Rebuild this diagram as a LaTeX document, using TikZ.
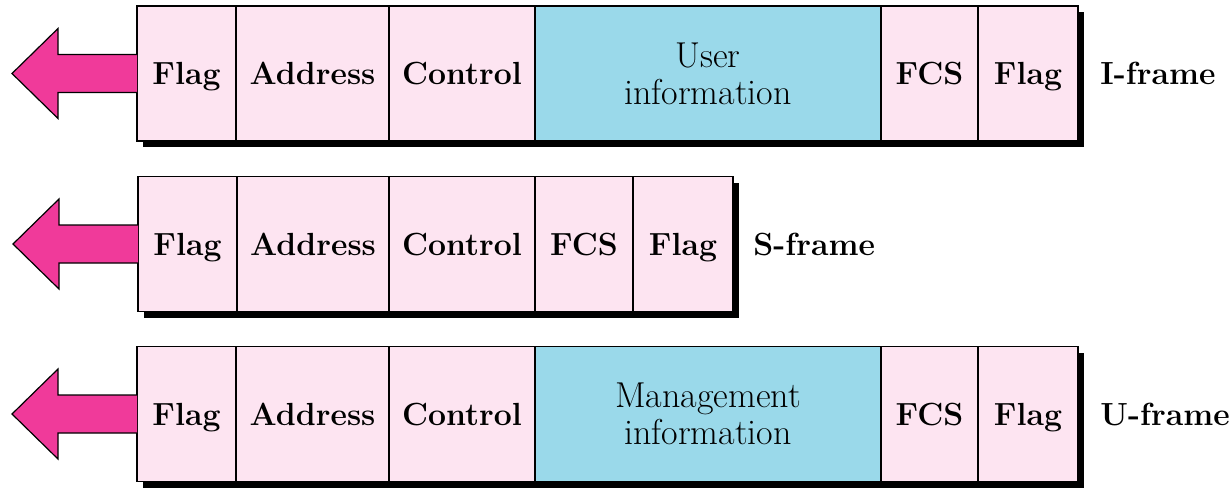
\documentclass[tikz,border=0pt]{standalone}
\usepackage{tikz}
\usetikzlibrary{positioning}
\usetikzlibrary{shadows}
\definecolor{cellpink}{HTML}{FDE4F1}
\definecolor{cellblue}{HTML}{9AD9EA}
\definecolor{arrowpink}{HTML}{F03A9A}
\newcommand{\sendarrow}[1]{%
  \draw[fill=arrowpink,line width=0.6pt,line join=miter]
    (#1.west) ++(0,9.5pt) -- ++(-39.5pt,0) -- ++(0,13pt) -- ++(-23pt,-22.5pt)
    -- ++(23pt,-22.5pt) -- ++(0,13pt) -- ++(39.5pt,0);}

\begin{document}
\begin{tikzpicture}[
    cell/.style={draw,fill=cellpink,line width=0.6pt,outer sep=0pt,inner sep=0pt,
      minimum height=67.5pt,font=\fontsize{16}{18}\selectfont\bfseries,
      text height=11pt,text depth=0pt,
      drop shadow={shadow xshift=3pt,shadow yshift=-3pt,fill=black,opacity=1}},
    infocell/.style={cell,fill=cellblue,align=center,text height=,text depth=,
      font=\fontsize{18}{18.5}\selectfont},
    framename/.style={inner sep=0pt,text height=11pt,text depth=0pt,
      font=\fontsize{16}{18}\selectfont\bfseries}]
  \useasboundingbox (0,0) rectangle (614.5pt,-243.5pt);

  % I-frame
  \node[cell,minimum width=49.5pt,anchor=west] (i1) at (68.5pt,-36.75pt) {Flag};
  \node[cell,minimum width=76.5pt,right=0pt of i1] (i2) {Address};
  \node[cell,minimum width=73pt,right=0pt of i2] (i3) {Control};
  \node[infocell,minimum width=173pt,right=0pt of i3] (i4) {User\\information};
  \node[cell,minimum width=48.5pt,right=0pt of i4] (i5) {FCS};
  \node[cell,minimum width=50pt,right=0pt of i5] (i6) {Flag};
  \node[framename,right=11pt of i6] (iname) {I-frame};
  \sendarrow{i1}

  % S-frame
  \node[cell,minimum width=49.5pt,anchor=west] (s1) at (69pt,-122pt) {Flag};
  \node[cell,minimum width=76pt,right=0pt of s1] (s2) {Address};
  \node[cell,minimum width=73pt,right=0pt of s2] (s3) {Control};
  \node[cell,minimum width=49pt,right=0pt of s3] (s4) {FCS};
  \node[cell,minimum width=50pt,right=0pt of s4] (s5) {Flag};
  \node[framename,right=10pt of s5] (sname) {S-frame};
  \sendarrow{s1}

  % U-frame
  \node[cell,minimum width=49.5pt,anchor=west] (u1) at (68.5pt,-207pt) {Flag};
  \node[cell,minimum width=76.5pt,right=0pt of u1] (u2) {Address};
  \node[cell,minimum width=73pt,right=0pt of u2] (u3) {Control};
  \node[infocell,minimum width=173pt,right=0pt of u3] (u4) {Management\\information};
  \node[cell,minimum width=48.5pt,right=0pt of u4] (u5) {FCS};
  \node[cell,minimum width=50pt,right=0pt of u5] (u6) {Flag};
  \node[framename,right=11pt of u6] (uname) {U-frame};
  \sendarrow{u1}
\end{tikzpicture}
\end{document}
